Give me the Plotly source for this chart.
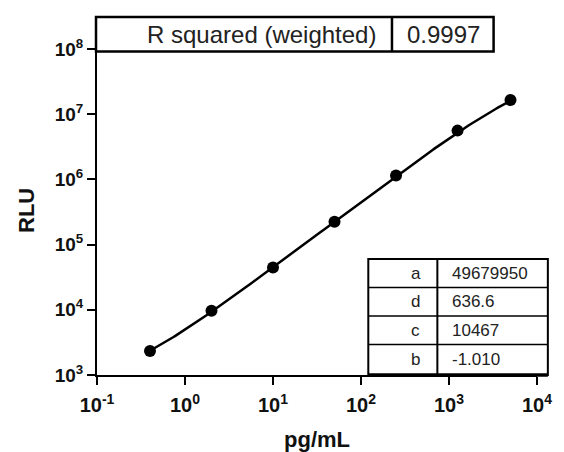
import numpy as np
import plotly.graph_objects as go

# ---- data ----
conc = [0.4, 2, 10, 50, 250, 1250, 5000]               # pg/mL
rlu = [2340, 9700, 44500, 225000, 1150000, 5600000, 16500000]

param_names = ["a", "d", "c", "b"]
param_text = ["49679950", "636.6", "10467", "-1.010"]
param_vals = [49679950, 636.6, 10467, -1.010]

r2_label = "R squared (weighted)"
r2_value = "0.9997"

x_tick_exp = [-1, 0, 1, 2, 3, 4]
y_tick_exp = [3, 4, 5, 6, 7, 8]
x_title = "pg/mL"
y_title = "RLU"

# ---- fitted 4PL curve from the displayed parameters ----
a, d, c, b = param_vals
xc = np.logspace(np.log10(conc[0]), np.log10(conc[-1]), 200)
yc = d + (a - d) / (1 + (xc / c) ** b)

# ---- layout geometry (pixels) ----
W, H = 564, 452
L, R, T, B = 97, 543, 49, 375  # plot area edges


def px(xp):
    return (xp - L) / (R - L)


def py(yp):
    return (B - yp) / (B - T)


FONT = "Liberation Sans, Arial, sans-serif"

fig = go.Figure()
fig.add_trace(go.Scatter(x=xc, y=yc, mode="lines",
                         line=dict(color="black", width=2.5),
                         hoverinfo="skip", showlegend=False))
fig.add_trace(go.Scatter(x=conc, y=rlu, mode="markers",
                         marker=dict(color="black", size=12),
                         showlegend=False))

axis_common = dict(type="log", showline=True, linecolor="black", linewidth=2,
                   ticks="outside", ticklen=8, tickwidth=2, tickcolor="black",
                   showgrid=False, zeroline=False, mirror=False)

fig.update_xaxes(range=[-1, 4],
                 tickvals=[10.0 ** e for e in x_tick_exp],
                 ticktext=[f"<b>10<sup>{e}</sup></b>" for e in x_tick_exp],
                 tickfont=dict(family=FONT, size=20, color="#111"),
                 ticklabelstandoff=3,
                 **axis_common)
fig.update_yaxes(range=[3, 8],
                 tickvals=[10.0 ** e for e in y_tick_exp],
                 ticktext=[f"<b>10<sup>{e}</sup></b>" for e in y_tick_exp],
                 tickfont=dict(family=FONT, size=19, color="#111"),
                 **axis_common)

shapes = []
annotations = []

# top table: R squared
tx0, tx1, tdiv, ty0, ty1 = 96, 499, 396, 17, 51.5
shapes.append(dict(type="rect", xref="paper", yref="paper",
                   x0=px(tx0), x1=px(tx1), y0=py(ty1), y1=py(ty0),
                   line=dict(color="black", width=2.5), fillcolor="white", layer="above"))
shapes.append(dict(type="line", xref="paper", yref="paper",
                   x0=px(tdiv), x1=px(tdiv), y0=py(ty1), y1=py(ty0),
                   line=dict(color="black", width=2.5), layer="above"))
annotations.append(dict(xref="paper", yref="paper", x=px(tdiv - 14), y=py((ty0 + ty1) / 2),
                        xanchor="right", yanchor="middle", text=r2_label, showarrow=False,
                        font=dict(family=FONT, size=24, color="#222")))
annotations.append(dict(xref="paper", yref="paper", x=px(tdiv + 13), y=py((ty0 + ty1) / 2),
                        xanchor="left", yanchor="middle", text=r2_value, showarrow=False,
                        font=dict(family=FONT, size=24, color="#222")))

# bottom table: parameters
bx0, bx1, bdiv = 372, 554, 442
row_edges = [259, 287.5, 316, 344.5, 375]
shapes.append(dict(type="rect", xref="paper", yref="paper",
                   x0=px(bx0), x1=px(bx1), y0=py(row_edges[-1]), y1=py(row_edges[0]),
                   line=dict(color="black", width=2), fillcolor="white", layer="above"))
shapes.append(dict(type="line", xref="paper", yref="paper",
                   x0=px(bdiv), x1=px(bdiv), y0=py(row_edges[-1]), y1=py(row_edges[0]),
                   line=dict(color="black", width=2), layer="above"))
for ye in row_edges[1:-1]:
    shapes.append(dict(type="line", xref="paper", yref="paper",
                       x0=px(bx0), x1=px(bx1), y0=py(ye), y1=py(ye),
                       line=dict(color="black", width=1.5), layer="above"))
shapes.append(dict(type="line", xref="paper", yref="paper",
                   x0=px(bx0), x1=px(bx1), y0=py(375), y1=py(375),
                   line=dict(color="black", width=3.5), layer="above"))
for i, (nm, val) in enumerate(zip(param_names, param_text)):
    yc_px = (row_edges[i] + row_edges[i + 1]) / 2
    annotations.append(dict(xref="paper", yref="paper", x=px(420), y=py(yc_px),
                            xanchor="center", yanchor="middle", text=nm, showarrow=False,
                            font=dict(family=FONT, size=17, color="#222")))
    annotations.append(dict(xref="paper", yref="paper", x=px(bdiv + 13), y=py(yc_px),
                            xanchor="left", yanchor="middle", text=val, showarrow=False,
                            font=dict(family=FONT, size=17, color="#222")))

# axis titles
annotations.append(dict(xref="paper", yref="paper", x=px(25), y=py(210),
                        xanchor="center", yanchor="middle", text=f"<b>{y_title}</b>",
                        textangle=-90, showarrow=False,
                        font=dict(family=FONT, size=22, color="#111")))
annotations.append(dict(xref="paper", yref="paper", x=px(320), y=py(439),
                        xanchor="center", yanchor="middle", text=f"<b>{x_title}</b>",
                        showarrow=False,
                        font=dict(family=FONT, size=22, color="#111")))

fig.update_layout(width=W, height=H,
                  margin=dict(l=L, r=W - R, t=T, b=H - B, pad=0),
                  paper_bgcolor="white", plot_bgcolor="white",
                  shapes=shapes, annotations=annotations, showlegend=False)

fig.write_html("out.html", config={"displayModeBar": False},
               post_script="document.body.style.margin='0';document.body.style.overflow='hidden';")
